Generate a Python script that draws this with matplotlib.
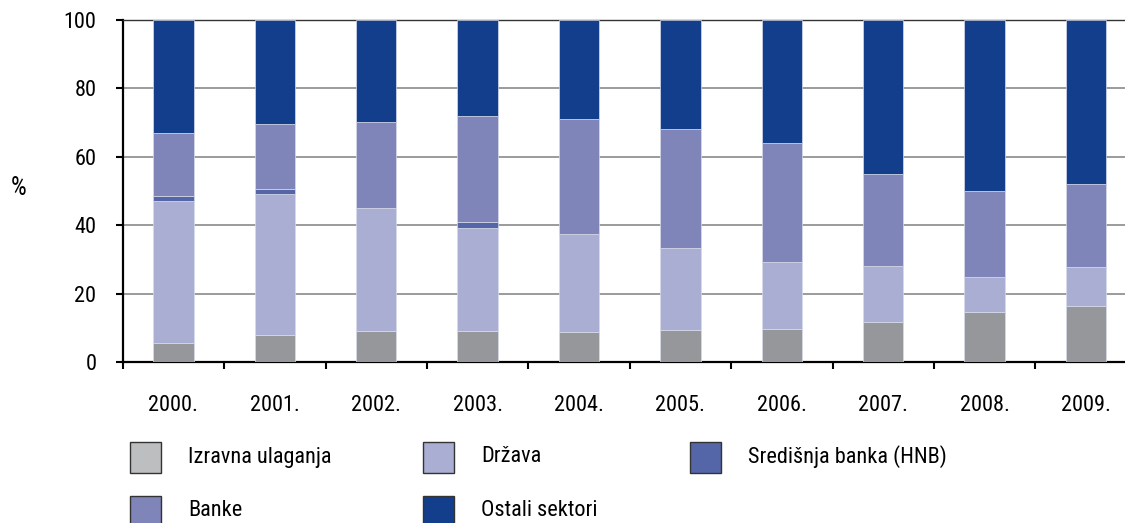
import numpy as np
import matplotlib
matplotlib.use("Agg")
import matplotlib.pyplot as plt
from matplotlib import font_manager
from matplotlib.patches import Rectangle

# pick a narrow sans if one is around
avail = set((f.name, f.stretch) for f in font_manager.fontManager.ttflist)
names = set(n for n, s in avail)
fam, stretch = "DejaVu Sans", "normal"
for cand in ["Liberation Sans Narrow", "Roboto Condensed", "Open Sans Condensed", "DejaVu Sans Condensed"]:
    if cand in names:
        fam = cand
        break
else:
    for n, s in avail:
        if s in ("condensed", "semi-condensed") and n in ("Roboto", "Open Sans", "DejaVu Sans", "Noto Sans", "Liberation Sans"):
            fam, stretch = n, s
            break
plt.rcParams['font.family'] = [fam, 'DejaVu Sans']
plt.rcParams['font.stretch'] = stretch

years = ["2000.", "2001.", "2002.", "2003.", "2004.", "2005.", "2006.", "2007.", "2008.", "2009."]
izravna = [5.7, 7.9, 9.1, 9.1, 8.8, 9.4, 9.7, 11.7, 14.5, 16.4]
drzava = [41.3, 41.3, 36.0, 30.1, 28.5, 23.9, 19.4, 16.3, 10.4, 11.5]
hnb = [1.6, 1.4, 0.0, 1.8, 0.0, 0.0, 0.0, 0.0, 0.0, 0.0]
banke = [18.3, 19.0, 25.2, 31.0, 33.7, 34.7, 34.9, 26.9, 25.1, 24.1]
ostali = [33.1, 30.4, 29.7, 28.0, 29.0, 31.9, 36.0, 45.1, 50.0, 48.0]

series = [
    ("Izravna ulaganja", izravna, "#96979b", "#bdbec0"),
    ("Država", drzava, "#aaaed2", "#aaaed2"),
    ("Središnja banka (HNB)", hnb, "#5465a8", "#5465a8"),
    ("Banke", banke, "#7f85b8", "#7f85b8"),
    ("Ostali sektori", ostali, "#123e8c", "#123e8c"),
]

W, H = 1125, 523
fig = plt.figure(figsize=(W / 100, H / 100), dpi=100)
ax = fig.add_axes([122.7 / W, 161 / H, 1014 / W, 342 / H])

x = np.arange(len(years))
bottom = np.zeros(len(years))
for name, vals, col, lcol in series:
    vals = np.array(vals)
    ax.bar(x, vals, 0.4, bottom=bottom, color=col, edgecolor="#d8dbea", linewidth=0.5, zorder=3)
    bottom += vals

ax.set_xlim(-0.5, 9.5)
ax.set_ylim(0, 100)
ax.set_yticks(np.arange(0, 101, 20))
ax.set_yticklabels([str(v) for v in range(0, 101, 20)], fontsize=16)
ax.yaxis.grid(True, color="#8a8a8a", linewidth=1.2, zorder=0)
ax.set_axisbelow(True)

ax.set_xticks(np.arange(-0.5, 10, 1))
ax.set_xticklabels([])
ax.set_xticks(x, minor=True)
ax.set_xticklabels(years, minor=True, fontsize=16)
ax.tick_params(axis="x", which="minor", length=0, pad=24)
ax.tick_params(axis="x", which="major", length=5, width=1.5, direction="out")
ax.tick_params(axis="y", length=5, width=1.5, direction="out", pad=14)

for s in ["left", "bottom"]:
    ax.spines[s].set_linewidth(1.6)
    ax.spines[s].set_color("black")
ax.spines["right"].set_visible(False)
ax.spines["top"].set_color("#333333")
ax.spines["top"].set_linewidth(1.0)

fig.text(19 / W, 1 - 188 / H, "%", fontsize=18, ha="center", va="center")

# legend
leg_pos = [(130, 442, 188), (423, 442, 481), (690, 442, 748), (130, 496, 188), (423, 496, 481)]
for (px, py, tx), (name, vals, col, lcol) in zip(leg_pos, series):
    fig.patches.append(Rectangle((px / W, 1 - (py + 31) / H), 31 / W, 31 / H,
                                 transform=fig.transFigure, facecolor=lcol,
                                 edgecolor="#333333", linewidth=1.0))
    fig.text(tx / W, 1 - (py + 15) / H, name, fontsize=16, ha="left", va="center")

fig.savefig("out.png", dpi=100)
